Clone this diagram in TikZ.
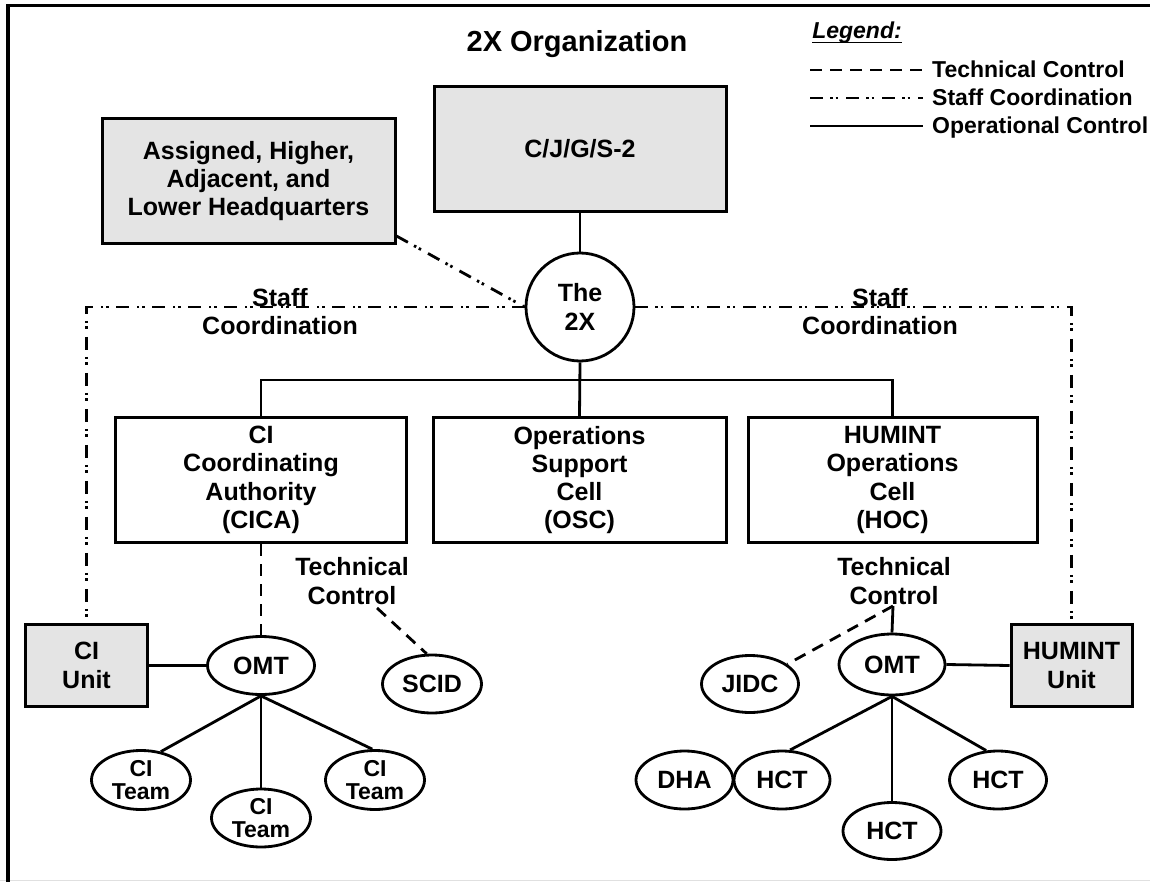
\documentclass[tikz,border=0pt]{standalone}
\usepackage{fontspec}
\setmainfont{Liberation Sans}
\usetikzlibrary{shapes.geometric,calc}
\definecolor{boxgray}{RGB}{228,228,228}
\begin{document}
\begin{tikzpicture}[x=1pt,y=-1pt,
  every node/.style={font=\bfseries\fontsize{25}{28.3}\selectfont, inner sep=0pt, align=center},
  box/.style={draw, rectangle, line width=3pt, minimum width=292pt, minimum height=125pt},
  graybox/.style={box, fill=boxgray},
  oval/.style={draw, ellipse, line width=2.8pt, minimum width=99pt, minimum height=58pt},
  teamfont/.style={font=\bfseries\fontsize{23}{23}\selectfont},
  legfont/.style={font=\bfseries\fontsize{23}{26}\selectfont},
  conn/.style={line width=2.8pt},
  tech/.style={conn, dash pattern=on 12pt off 8pt},
  staff/.style={conn, dash pattern=on 13pt off 7pt on 2.5pt off 3pt on 2.5pt off 8pt}
]
\useasboundingbox (0,0) rectangle (1150,882);
% frame
\draw[line width=1.5pt, black!12] (0,880.5) -- (1150,880.5);
\draw[line width=3.2pt] (8,882) -- (8,5.7) -- (1150,5.7);

% title
\node[font=\bfseries\fontsize{29}{32}\selectfont, anchor=base] (title) at (577,52) {2X Organization};

% legend
\node[font=\bfseries\itshape\fontsize{23}{26}\selectfont, anchor=base] (leg) at (857,39) {Legend:};
\draw[line width=1.6pt] ($(leg.base west)+(0,3.5)$) -- ($(leg.base east)+(0,3.5)$);
\coordinate (l1a) at (810,70); \coordinate (l1b) at (923,70);
\coordinate (l2a) at (810,98); \coordinate (l2b) at (923,98);
\coordinate (l3a) at (810,126); \coordinate (l3b) at (923,126);
\draw[tech] (l1a) -- (l1b);
\draw[staff] (l2a) -- (l2b);
\draw[conn] (l3a) -- (l3b);
\node[legfont, anchor=base west] (lt1) at (932,78) {Technical Control};
\node[legfont, anchor=base west] (lt2) at (932,106) {Staff Coordination};
\node[legfont, anchor=base west] (lt3) at (932,134) {Operational Control};

% top boxes
\node[graybox] (cjgs) at (580,149) {C/J/G/S-2};
\node[graybox, minimum width=293pt] (ahq) at (248.5,181) {Assigned, Higher,\\Adjacent, and\\Lower Headquarters};
\node[draw, circle, line width=2.8pt, minimum size=108pt] (the2x) at (580,307) {The\\2X};

% middle boxes
\node[box, minimum width=291pt] (cica) at (261,480) {CI\\Coordinating\\Authority\\(CICA)};
\node[box, minimum width=293pt] (osc) at (579.5,480) {Operations\\Support\\Cell\\(OSC)};
\node[box, minimum width=289pt] (hoc) at (892.5,480) {HUMINT\\Operations\\Cell\\(HOC)};

% units
\node[graybox, minimum width=122pt, minimum height=82pt] (ciunit) at (86.5,665.5) {CI\\Unit};
\node[graybox, minimum width=121pt, minimum height=82pt] (hunit) at (1071.5,665.5) {HUMINT\\Unit};

% left ovals
\node[oval, minimum width=107pt] (omtL) at (261,665.5) {OMT};
\node[oval] (scid) at (432,684) {SCID};
\node[oval, teamfont, minimum height=59pt] (teamL) at (141,780) {CI\\Team};
\node[oval, teamfont] (teamM) at (261,818) {CI\\Team};
\node[oval, teamfont, minimum height=59pt] (teamR) at (375,780) {CI\\Team};

% right ovals
\node[oval, minimum width=106pt, minimum height=61pt] (omtR) at (892,664.5) {OMT};
\node[oval, minimum width=97pt, minimum height=57pt] (jidc) at (750,684) {JIDC};
\node[oval, minimum width=97pt] (dha) at (684.5,780) {DHA};
\node[oval, minimum width=96pt] (hctL) at (782,780) {HCT};
\node[oval, minimum width=98pt, minimum height=57pt] (hctM) at (892,831) {HCT};
\node[oval, minimum width=97pt] (hctR) at (998,780) {HCT};

% labels
\node (stL) at (280,311.5) {Staff\\Coordination};
\node (stR) at (880,311.5) {Staff\\Coordination};
\node (tcLlab) at (352,581) {Technical\\Control};
\node (tcRlab) at (894,581) {Technical\\Control};

% connectors: operational
\coordinate (bus) at (580,380);
\draw[conn] (cjgs.south) -- (the2x.north);
\draw[conn] (the2x.south) -- (osc.north);
\draw[conn] (cica.north) |- (bus) -| (hoc.north);
\draw[conn] (ciunit.east) -- (omtL.west);
\draw[conn] (omtL.south) -- (teamL.55);
\draw[conn] (omtL.south) -- (teamM.north);
\draw[conn] (omtL.south) -- (teamR.95);
\draw[conn] (omtR.east) -- (hunit.west);
\draw[conn] (omtR.south) -- (hctL.75);
\draw[conn] (omtR.south) -- (hctM.north);
\draw[conn] (omtR.south) -- (hctR.112);

% staff coordination
\draw[staff] (the2x.west) -| (ciunit.north);
\draw[staff] (the2x.east) -| (hunit.north);
\draw[staff] ($(ahq.south east)+(0,-9)$) -- (the2x.west);

% technical control
\coordinate (tcL) at (377,608);
\coordinate (tcR) at (893,606);
\draw[tech] (cica.south) -- (omtL.north);
\draw[tech] (tcL) -- (scid.100);
\draw[conn] (tcR) -- (omtR.north);
\draw[tech] (tcR) -- (jidc.28);
\end{tikzpicture}
\end{document}
